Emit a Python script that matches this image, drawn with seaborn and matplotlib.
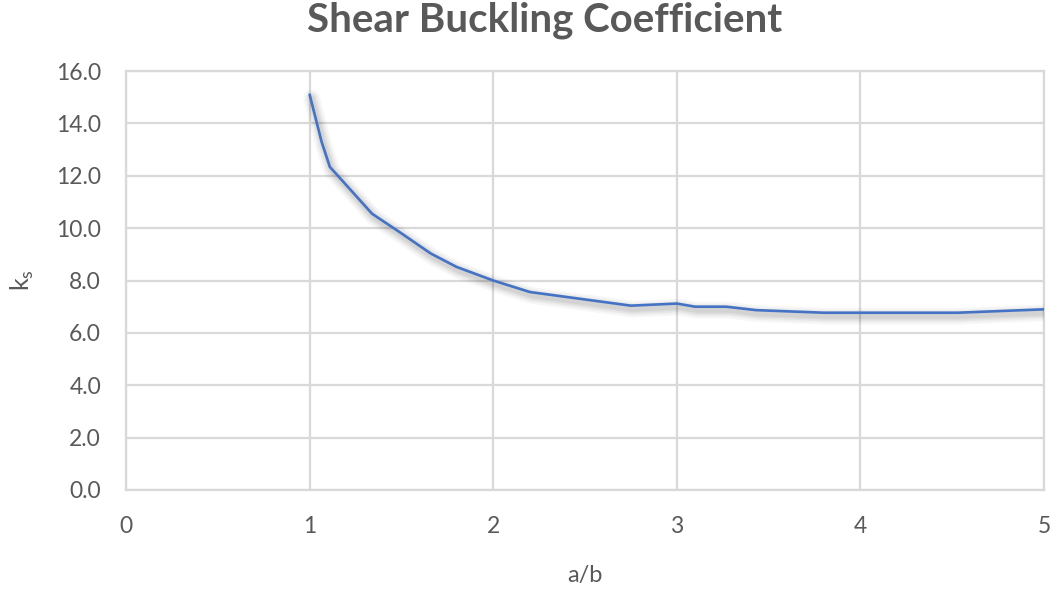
import matplotlib
matplotlib.use("Agg")
import matplotlib.pyplot as plt
import matplotlib.patheffects as pe
import numpy as np
import pandas as pd
import seaborn as sns

# Aspect ratio a/b and shear buckling coefficient k_s
aspect_ratio = [1.00, 1.065, 1.11, 1.34, 1.50, 1.66, 1.80, 2.00, 2.20, 2.75,
                3.00, 3.10, 3.27, 3.43, 3.80, 4.53, 5.00]
k_s = [15.10, 13.30, 12.34, 10.55, 9.80, 9.03, 8.52, 8.00, 7.56, 7.04,
       7.12, 7.00, 7.00, 6.87, 6.77, 6.77, 6.90]

x_ticks = [0, 1, 2, 3, 4, 5]
y_ticks = [0, 2, 4, 6, 8, 10, 12, 14, 16]

df = pd.DataFrame({"a/b": aspect_ratio, "k_s": k_s})

sns.set_style("white")
plt.rcParams["font.family"] = ["Lato", "DejaVu Sans"]

text_grey = "#595959"
grid_grey = "#d9d9d9"
line_blue = "#4472C4"

fig = plt.figure(figsize=(10.53, 5.92), dpi=100)
ax = fig.add_axes([0.1197, 0.1723, 0.8718, 0.7077])

# soft drop shadow under the curve, built from stacked translucent strokes
shadow = [pe.SimpleLineShadow(offset=(1.5, -2.5), shadow_color="black",
                              alpha=0.035, linewidth=w) for w in (12, 9, 7, 5, 3.5)]
sns.lineplot(data=df, x="a/b", y="k_s", ax=ax, color=line_blue, linewidth=1.9,
             sort=False, estimator=None,
             path_effects=shadow + [pe.Normal()], zorder=3)

ax.set_xlim(0, 5)
ax.set_ylim(0, 16)
ax.set_xticks(x_ticks)
ax.set_yticks(y_ticks)
ax.set_xticklabels([str(v) for v in x_ticks])
ax.set_yticklabels([f"{v:.1f}" for v in y_ticks])

ax.grid(True, color=grid_grey, linewidth=1.6)
ax.set_axisbelow(True)
for side in ax.spines.values():
    side.set_color(grid_grey)
    side.set_linewidth(1.6)

ax.tick_params(axis="both", length=0, labelsize=16.5, labelcolor=text_grey)
ax.tick_params(axis="y", pad=18)
ax.tick_params(axis="x", pad=19)

ax.set_xlabel("a/b", fontsize=17, color=text_grey, labelpad=20)
ax.set_ylabel(r"k$_\mathregular{s}$", fontsize=18, color=text_grey, labelpad=14)

fig.suptitle("Shear Buckling Coefficient", fontsize=29, fontweight="bold",
             color=text_grey, x=0.517, y=0.998)

fig.savefig("out.png", dpi=100, facecolor="white")
